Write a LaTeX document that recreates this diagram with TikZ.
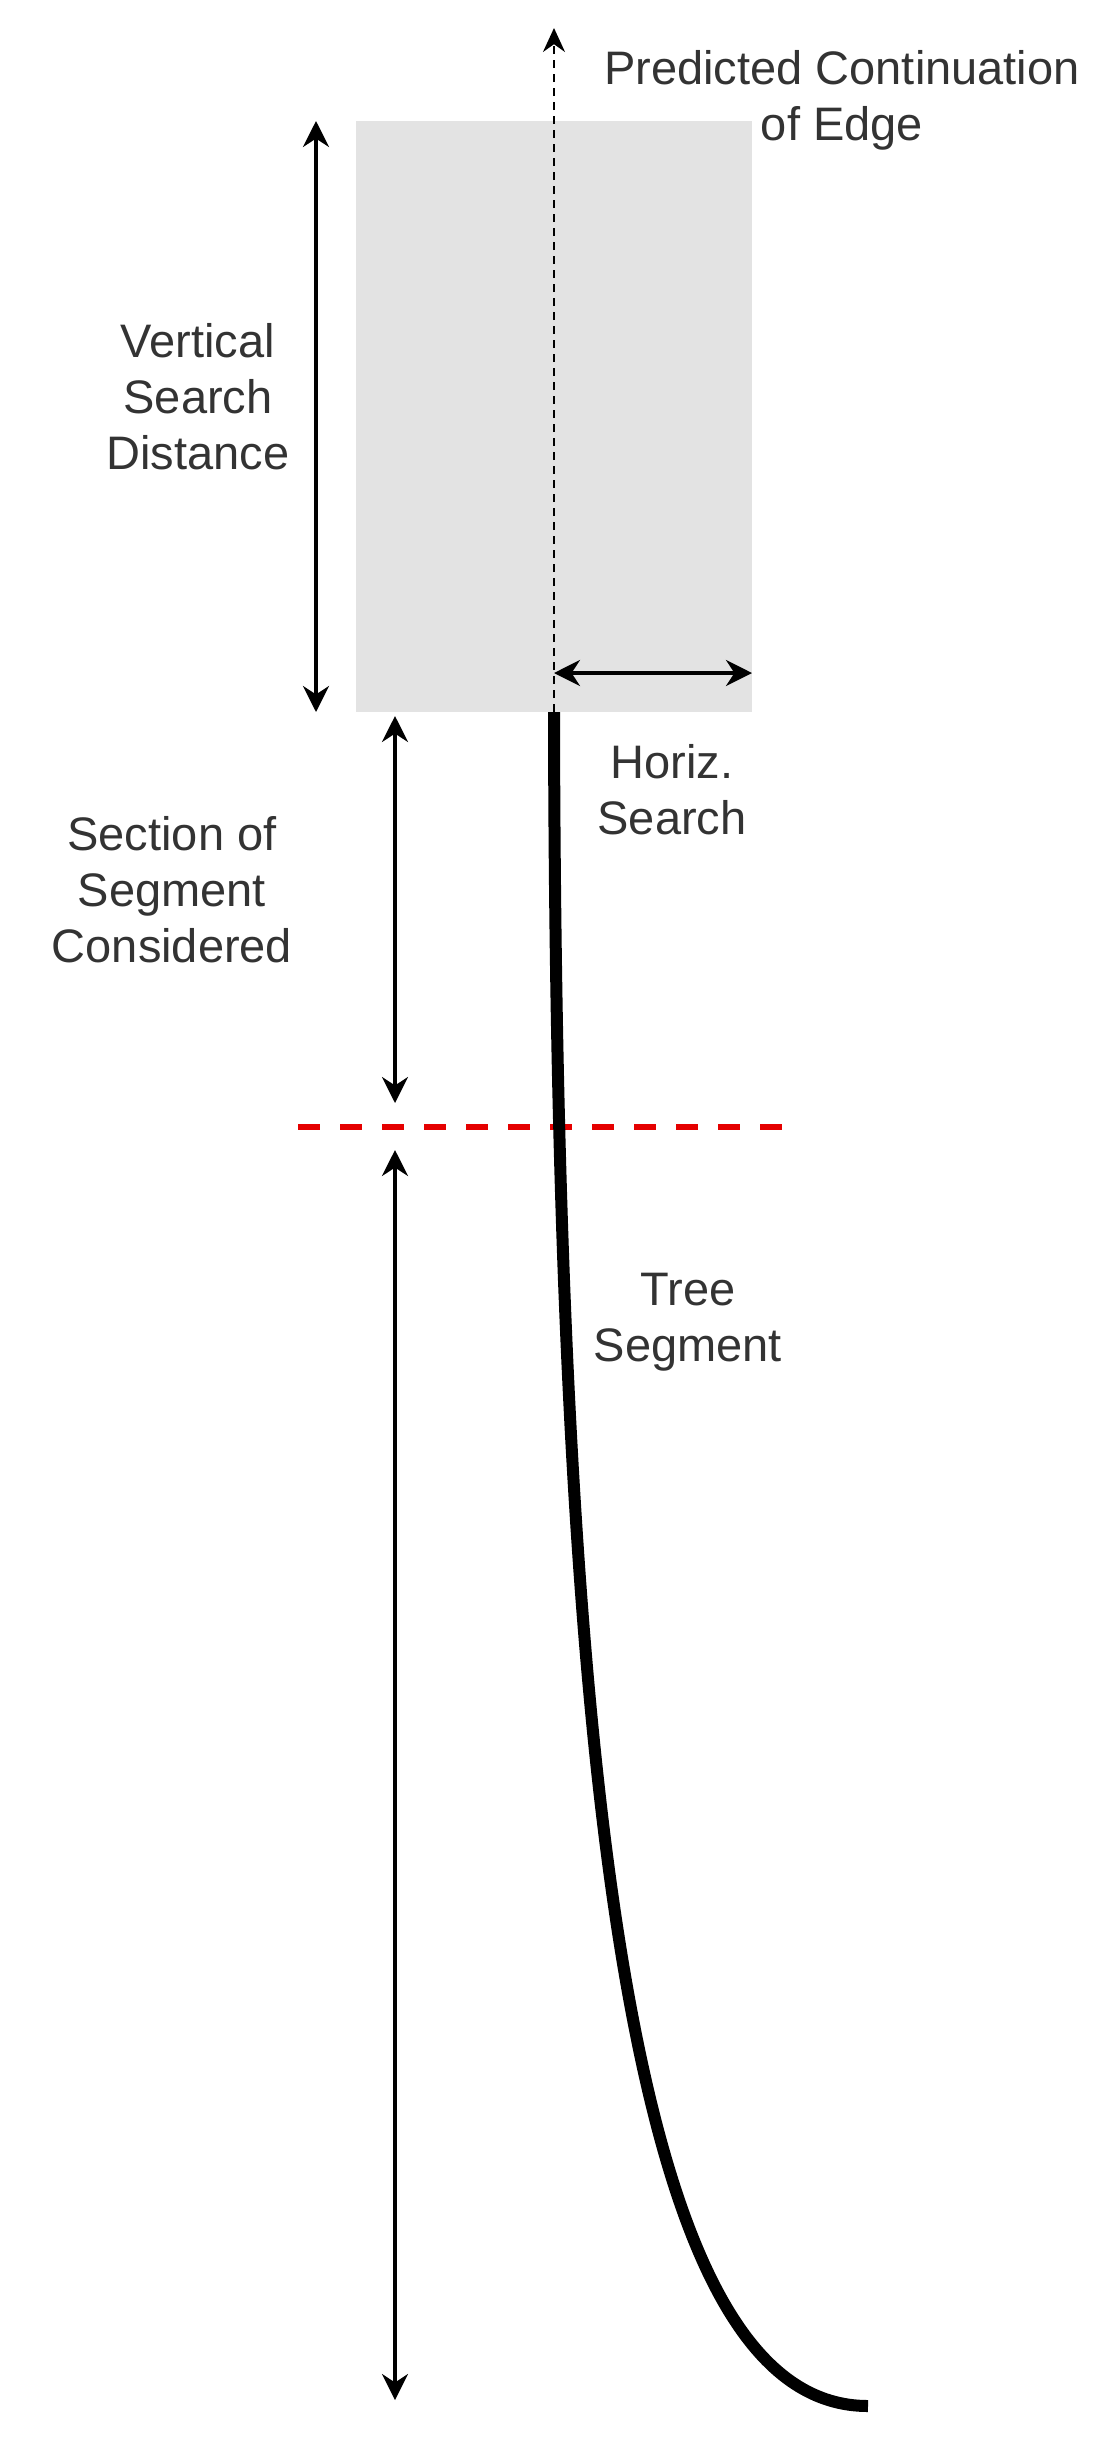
\documentclass[tikz,border=0pt]{standalone}
\usepackage{fontspec}
\setmainfont{Liberation Sans}
\usetikzlibrary{arrows.meta}
\definecolor{txt}{HTML}{333333}
\definecolor{boxgray}{HTML}{E3E3E3}
\tikzset{
  lbl/.style={text=txt,font=\fontsize{47}{56}\selectfont,align=center,inner sep=0},
  dimfull/.style={line width=3.5pt,<->,>={Stealth[width=26pt,length=26pt]}},
}
\begin{document}
\begin{tikzpicture}[x=1pt,y=-1pt]
\useasboundingbox (0,0) rectangle (1104,2453);
\fill[boxgray] (356,121) rectangle (752,712);
\coordinate (top) at (554,28);
\coordinate (base) at (554,712);
\draw[line width=2pt,dash pattern=on 8pt off 6pt,-{Stealth[width=22pt,length=24pt]}] (base) -- (top);
\coordinate (va) at (316,121); \coordinate (vb) at (316,712);
\draw[dimfull] (va) -- (vb);
\coordinate (ha) at (554,673); \coordinate (hb) at (752,673);
\draw[dimfull] (ha) -- (hb);
\coordinate (sa) at (395,716); \coordinate (sb) at (395,1103);
\draw[dimfull] (sa) -- (sb);
\coordinate (ta) at (395,1150); \coordinate (tb) at (395,2400);
\draw[dimfull] (ta) -- (tb);
\coordinate (ra) at (298,1127); \coordinate (rb) at (800,1127);
\draw[red!90!black,line width=6pt,dash pattern=on 22pt off 20pt] (ra) -- (rb);
\coordinate (end) at (868,2406);
\draw[line width=12pt] (base) .. controls (556,1950) and (660,2406) .. (end);
\node[lbl] (pred) at (842,100) {Predicted Continuation\\of Edge};
\node[lbl] (vsd) at (198,397) {Vertical\\Search\\Distance};
\node[lbl] (hs) at (672,790) {Horiz.\\Search};
\node[lbl] (ssc) at (172,890) {Section of\\Segment\\Considered};
\node[lbl] (ts) at (688,1322) {Tree\\Segment};
\end{tikzpicture}
\end{document}
